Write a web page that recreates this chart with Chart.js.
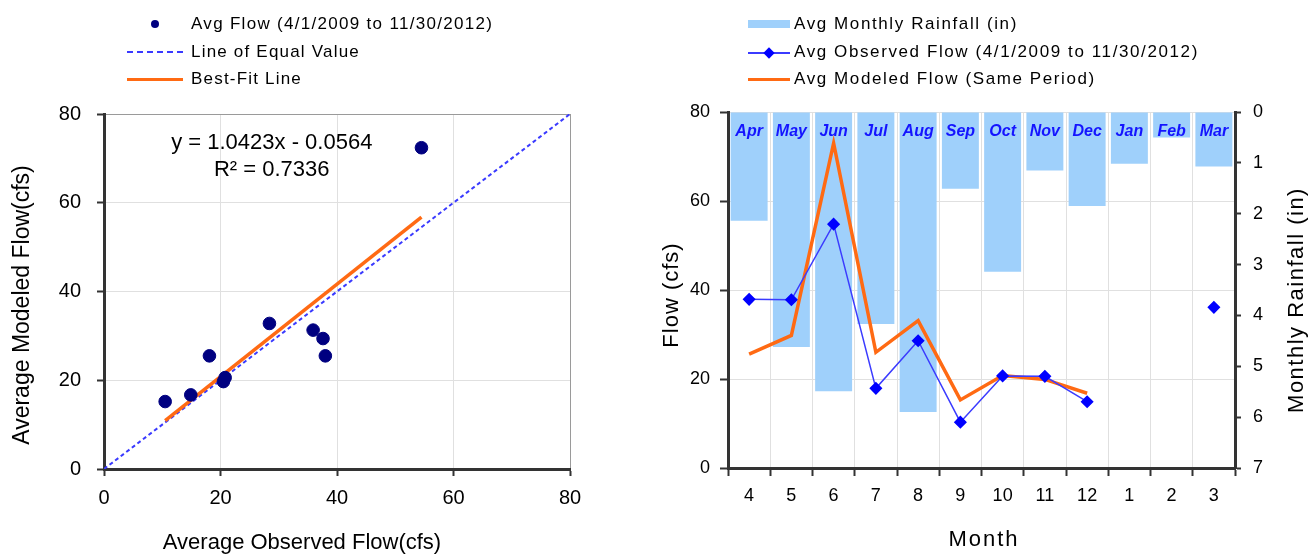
<!DOCTYPE html>
<html><head><meta charset="utf-8">
<script src="https://cdn.jsdelivr.net/npm/chart.js@4/dist/chart.umd.min.js"></script>
<style>
html,body{margin:0;padding:0;background:#fff;width:1312px;height:554px;overflow:hidden;font-family:"Liberation Sans",Arial,sans-serif;}
#c1{position:absolute;left:0;top:0;}
#c2{position:absolute;left:650px;top:0;}
.lt{position:absolute;font-size:17px;line-height:20px;color:#000;white-space:nowrap;}
.sym{position:absolute;}
</style>
</head>
<body>
<canvas id="c1" width="650" height="554"></canvas>
<canvas id="c2" width="662" height="554"></canvas>

<!-- left legend -->
<div class="sym" style="left:151px;top:20px;width:8px;height:8px;border-radius:50%;background:#000080;"></div>
<div class="lt" style="left:191px;top:14px;letter-spacing:1.3px;">Avg Flow (4/1/2009 to 11/30/2012)</div>
<div class="sym" style="left:127px;top:51px;width:56px;height:0;border-top:2px dashed #3a3aff;"></div>
<div class="lt" style="left:191px;top:42px;letter-spacing:1.2px;">Line of Equal Value</div>
<div class="sym" style="left:127px;top:78px;width:56px;height:3px;background:#ff6a13;"></div>
<div class="lt" style="left:191px;top:69px;letter-spacing:1.2px;">Best-Fit Line</div>

<!-- right legend -->
<div class="sym" style="left:748px;top:20px;width:42px;height:8px;background:#9fd0fb;"></div>
<div class="lt" style="left:794px;top:14px;letter-spacing:1.6px;">Avg Monthly Rainfall (in)</div>
<div class="sym" style="left:748px;top:52px;width:42px;height:2px;background:#3b3bff;"></div>
<div class="sym" style="left:765px;top:49px;width:8px;height:8px;background:#0000ff;transform:rotate(45deg);"></div>
<div class="lt" style="left:794px;top:42px;letter-spacing:1.6px;">Avg Observed Flow (4/1/2009 to 11/30/2012)</div>
<div class="sym" style="left:748px;top:78px;width:42px;height:3px;background:#ff6a13;"></div>
<div class="lt" style="left:794px;top:69px;letter-spacing:1.6px;">Avg Modeled Flow (Same Period)</div>

<script>
// ---------- data: scatter (left) ----------
const scatterObserved = [10.5, 14.9, 18.1, 20.5, 20.8, 28.4, 35.9, 37.6, 38.0, 54.5];
const scatterModeled  = [15.2, 16.7, 25.5, 19.7, 20.6, 32.8, 31.3, 29.4, 25.5, 72.4];
const fitSlope = 1.0423;
const fitIntercept = -0.0564;
const fitR2 = 0.7336;
const equalRange = [0, 80];
const scatterTicks = [0, 20, 40, 60, 80];

// ---------- data: monthly (right) ----------
const months = ['4','5','6','7','8','9','10','11','12','1','2','3'];
const monthNames = ['Apr','May','Jun','Jul','Aug','Sep','Oct','Nov','Dec','Jan','Feb','Mar'];
const rainfall = [2.14, 4.62, 5.49, 4.17, 5.90, 1.51, 3.14, 1.15, 1.85, 1.02, 0.50, 1.07];
const observedFlow = [37.9, 37.8, 54.8, 17.9, 28.6, 10.3, 20.7, 20.6, 14.9, null, null, 36.1];
const modeledFlow  = [25.6, 29.8, 73.0, 26.0, 33.1, 15.3, 20.8, 19.9, 16.8, null, null, null];
const flowTicks = [0, 20, 40, 60, 80];
const rainTicks = [0, 1, 2, 3, 4, 5, 6, 7];

// ---------- helpers ----------
const FONT = '"Liberation Sans", Arial, sans-serif';
function txt(ctx, s, x, y, size, opts = {}) {
  ctx.save();
  ctx.translate(x, y);
  if (opts.rot) ctx.rotate(opts.rot);
  ctx.font = (opts.style || '') + ' ' + size + 'px ' + FONT;
  ctx.fillStyle = opts.color || '#000';
  ctx.textAlign = 'center';
  ctx.textBaseline = 'middle';
  if (opts.ls) ctx.letterSpacing = opts.ls + 'px';
  ctx.fillText(s, 0, 0);
  ctx.restore();
}
const GRID = '#e0e0e0';
const AX = '#333';

// ---------- left scatter chart ----------
const fitX = [Math.min(...scatterObserved), Math.max(...scatterObserved)];
const eqAnchor = {x: 28.8, y: 73.4, y2: 67.3};

new Chart(document.getElementById('c1'), {
  type: 'scatter',
  data: {
    datasets: [
      { label: 'Avg Flow (4/1/2009 to 11/30/2012)',
        data: scatterObserved.map((x, i) => ({x, y: scatterModeled[i]})),
        backgroundColor: '#000080', borderColor: '#000080', pointRadius: 6.3, order: 0 },
      { label: 'Best-Fit Line', type: 'line',
        data: fitX.map(x => ({x, y: fitSlope * x + fitIntercept})),
        borderColor: '#ff6a13', borderWidth: 3.5, pointRadius: 0, order: 1 },
      { label: 'Line of Equal Value', type: 'line',
        data: equalRange.map(v => ({x: v, y: v})),
        borderColor: '#3a3aff', borderWidth: 2, borderDash: [4, 3], pointRadius: 0, order: 2 }
    ]
  },
  options: {
    responsive: false, animation: false, events: [],
    layout: {padding: {top: 114, right: 80, left: 0, bottom: 0}},
    plugins: {legend: {display: false}, tooltip: {enabled: false}},
    scales: {
      x: { type: 'linear', min: equalRange[0], max: equalRange[1],
        afterBuildTicks: s => { s.ticks = scatterTicks.map(v => ({value: v})); },
        ticks: {font: {size: 20, family: FONT}, color: '#000', padding: 10},
        grid: {color: c => c.tick && c.tick.value === 80 ? '#9a9a9a' : GRID, tickLength: 7, tickColor: AX, tickWidth: 2},
        border: {color: AX, width: 3},
        afterFit: s => { s.height = 85; } },
      y: { type: 'linear', min: equalRange[0], max: equalRange[1],
        afterBuildTicks: s => { s.ticks = scatterTicks.map(v => ({value: v})); },
        ticks: {font: {size: 20, family: FONT}, color: '#000', padding: 16},
        grid: {color: c => c.tick && c.tick.value === 80 ? '#9a9a9a' : GRID, tickLength: 7, tickColor: AX, tickWidth: 2},
        border: {color: AX, width: 3},
        afterFit: s => { s.width = 104; } }
    }
  },
  plugins: [{
    id: 'texts1',
    afterDraw(chart) {
      const {ctx, scales: {x, y}} = chart;
      const sign = fitIntercept < 0 ? '-' : '+';
      txt(ctx, 'y = ' + fitSlope.toFixed(4) + 'x ' + sign + ' ' + Math.abs(fitIntercept).toFixed(4),
          x.getPixelForValue(eqAnchor.x), y.getPixelForValue(eqAnchor.y), 22);
      txt(ctx, 'R² = ' + fitR2.toFixed(4),
          x.getPixelForValue(eqAnchor.x), y.getPixelForValue(eqAnchor.y2), 22);
      txt(ctx, 'Average Modeled Flow(cfs)', 23, 305, 23, {rot: -Math.PI / 2});
      txt(ctx, 'Average Observed Flow(cfs)', 302, 543, 22);
    }
  }]
});

// ---------- right monthly chart ----------
new Chart(document.getElementById('c2'), {
  type: 'bar',
  data: {
    labels: months,
    datasets: [
      { type: 'line', label: 'Avg Observed Flow (4/1/2009 to 11/30/2012)', data: observedFlow, yAxisID: 'y',
        borderColor: '#3b3bff', borderWidth: 1.5, pointStyle: 'rectRot', pointRadius: 5.5,
        pointBackgroundColor: '#0000ff', pointBorderColor: '#0000ff', backgroundColor: '#0000ff',
        spanGaps: false, tension: 0, order: 0 },
      { type: 'line', label: 'Avg Modeled Flow (Same Period)', data: modeledFlow, yAxisID: 'y',
        borderColor: '#ff6a13', borderWidth: 3.5, pointRadius: 0, tension: 0, order: 1 },
      { type: 'bar', label: 'Avg Monthly Rainfall (in)', data: rainfall, yAxisID: 'y2',
        backgroundColor: '#9fd0fb', barPercentage: 0.875, categoryPercentage: 1, order: 2 }
    ]
  },
  options: {
    responsive: false, animation: false, events: [],
    layout: {padding: {top: 112, right: 0, left: 0, bottom: 0}},
    plugins: {legend: {display: false}, tooltip: {enabled: false}},
    scales: {
      x: { offset: true,
        ticks: {font: {size: 18, family: FONT}, color: '#000', padding: 9},
        grid: {offset: true, color: GRID, tickLength: 8, tickColor: AX, tickWidth: 2},
        border: {color: AX, width: 3},
        afterFit: s => { s.height = 86; } },
      y: { position: 'left', min: 0, max: 80,
        afterBuildTicks: s => { s.ticks = flowTicks.map(v => ({value: v})); },
        ticks: {font: {size: 18, family: FONT}, color: '#000', padding: 10},
        grid: {color: GRID, tickLength: 8, tickColor: AX, tickWidth: 2},
        border: {color: AX, width: 3},
        afterFit: s => { s.width = 78; } },
      y2: { position: 'right', reverse: true, min: 0, max: 7,
        afterBuildTicks: s => { s.ticks = rainTicks.map(v => ({value: v})); },
        ticks: {font: {size: 18, family: FONT}, color: '#000', padding: 12},
        grid: {drawOnChartArea: false, tickLength: 6, tickColor: AX, tickWidth: 2},
        border: {color: AX, width: 3},
        afterFit: s => { s.width = 77; } }
    }
  },
  plugins: [{
    id: 'texts2',
    afterDatasetDraw(chart, args) {
      if (args.index !== 2) return;
      const {ctx, scales: {x}, chartArea} = chart;
      monthNames.forEach((m, i) => {
        txt(ctx, m, x.getPixelForValue(i), chartArea.top + 20, 16, {style: 'italic bold', color: '#1414ff'});
      });
    },
    afterDraw(chart) {
      const {ctx} = chart;
      txt(ctx, 'Flow (cfs)', 22, 295, 22, {rot: -Math.PI / 2, ls: 1});
      txt(ctx, 'Monthly Rainfall (in)', 647, 300, 22, {rot: -Math.PI / 2, ls: 1.5});
      txt(ctx, 'Month', 334, 540, 22, {ls: 2});
    }
  }]
});
</script>
</body></html>
